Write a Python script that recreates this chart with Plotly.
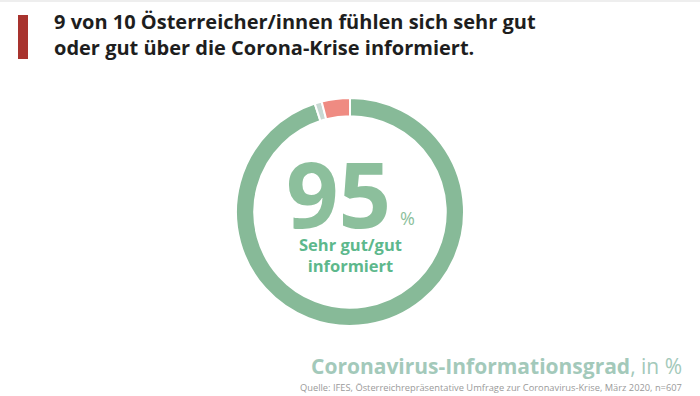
import plotly.graph_objects as go

labels = ["Sehr gut/gut informiert", "Weiß nicht", "Weniger/gar nicht informiert"]
values = [95, 1, 4]
colors = ["#87ba98", "#c8d9d3", "#ef8b82"]

title_lines = ["9 von 10 Österreicher/innen fühlen sich sehr gut",
               "oder gut über die Corona-Krise informiert."]
big_value = "95"
center_lines = ["Sehr gut/gut", "informiert"]
footer_title = "Coronavirus-Informationsgrad"
footer_unit = ", in %"
source = "Quelle: IFES, Österreichrepräsentative Umfrage zur Coronavirus-Krise, März 2020, n=607"

W, H = 700, 396
fig = go.Figure()
fig.add_trace(go.Pie(
    labels=labels, values=values, hole=0.84, sort=False, direction="clockwise",
    rotation=0, marker=dict(colors=colors, line=dict(color="white", width=2)),
    textinfo="none", hoverinfo="label+percent", showlegend=False,
    domain=dict(x=[236 / W, 464 / W], y=[1 - 326 / H, 1 - 98 / H]),
))

def px(x): return x / W
def py(y): return 1 - y / H

ann = []
ann.append(dict(x=px(52), y=py(35), xanchor="left", yanchor="middle",
                text="<b>" + "<br>".join(title_lines) + "</b>",
                font=dict(family="Open Sans", size=20, color="#1e1e1e"),
                align="left", showarrow=False))
ann.append(dict(x=px(338), y=py(192), xanchor="center", yanchor="middle",
                text="<b>" + big_value + "</b>",
                font=dict(family="Open Sans", size=92, color="#8cbf9c"), showarrow=False))
ann.append(dict(x=px(398), y=py(218), xanchor="left", yanchor="middle",
                text="%", font=dict(family="Open Sans", size=18, color="#8cbf9c"), showarrow=False))
ann.append(dict(x=px(350), y=py(255), xanchor="center", yanchor="middle",
                text="<b>" + "<br>".join(center_lines) + "</b>",
                font=dict(family="Open Sans", size=16.5, color="#5db88c"),
                showarrow=False))
ann.append(dict(x=px(684), y=py(366), xanchor="right", yanchor="middle",
                text="<b>" + footer_title + "</b>" + footer_unit,
                font=dict(family="Open Sans", size=21, color="#a3c9ba"), showarrow=False))
ann.append(dict(x=px(684), y=py(387), xanchor="right", yanchor="middle",
                text=source, font=dict(family="Open Sans", size=9.3, color="#9a9a9a"), showarrow=False))

shapes = [
    dict(type="rect", xref="paper", yref="paper", x0=px(18), x1=px(28), y0=py(59), y1=py(15),
         fillcolor="#a8332e", line=dict(width=0)),
    dict(type="rect", xref="paper", yref="paper", x0=0, x1=1, y0=py(2), y1=1,
         fillcolor="#eeeeee", line=dict(width=0)),
]

fig.update_layout(width=W, height=H, margin=dict(l=0, r=0, t=0, b=0),
                  paper_bgcolor="white", plot_bgcolor="white",
                  annotations=ann, shapes=shapes)
fig.write_html("out.html")
